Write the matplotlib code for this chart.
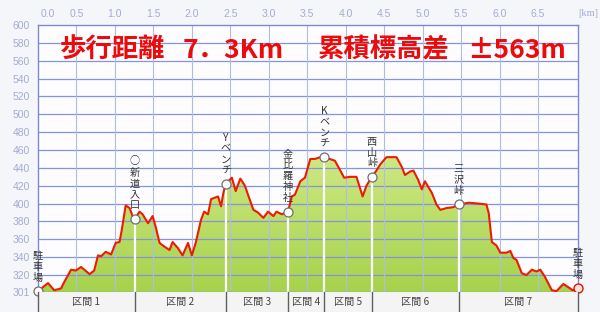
import numpy as np
import matplotlib
matplotlib.use("Agg")
import matplotlib.pyplot as plt
import matplotlib.transforms as mtransforms
from matplotlib.colors import LinearSegmentedColormap

plt.rcParams['font.family'] = ['Noto Sans CJK JP', 'DejaVu Sans']

# ---- data ----
dist = [0.00, 0.13, 0.21, 0.30, 0.34, 0.43, 0.49, 0.56, 0.67, 0.73, 0.78, 0.82, 0.88, 0.95,
        1.01, 1.06, 1.09, 1.14, 1.19, 1.23, 1.26, 1.32, 1.36, 1.43, 1.49, 1.53, 1.58, 1.64,
        1.71, 1.75, 1.82, 1.88, 1.95, 2.00, 2.05, 2.12, 2.16, 2.21, 2.25, 2.34, 2.38, 2.41,
        2.44, 2.52, 2.57, 2.63, 2.69, 2.73, 2.80, 2.86, 2.93, 2.99, 3.06, 3.10, 3.17, 3.25,
        3.30, 3.34, 3.41, 3.47, 3.54, 3.60, 3.67, 3.72, 3.86, 3.93, 3.98, 4.06, 4.14, 4.22,
        4.27, 4.34, 4.40, 4.45, 4.53, 4.66, 4.73, 4.77, 4.84, 4.88, 4.94, 4.99, 5.03, 5.12,
        5.18, 5.23, 5.31, 5.40, 5.47, 5.60, 5.73, 5.83, 5.86, 5.90, 5.96, 6.01, 6.09, 6.14,
        6.18, 6.22, 6.29, 6.35, 6.42, 6.48, 6.53, 6.59, 6.68, 6.74, 6.83, 6.90, 6.95, 7.02]
elev = [302, 311, 303, 305, 312, 326, 325, 329, 321, 325, 342, 341, 346, 343,
        356, 357, 371, 398, 395, 386, 383, 391, 388, 378, 386, 374, 356, 352,
        348, 357, 350, 342, 356, 342, 356, 382, 391, 388, 405, 408, 397, 412,
        422, 429, 414, 428, 420, 410, 393, 390, 384, 391, 386, 391, 388, 391,
        408, 410, 425, 429, 450, 450, 452, 452, 448, 437, 429, 430, 430, 408,
        420, 430, 437, 444, 452, 452, 441, 432, 436, 437, 427, 416, 425, 412,
        399, 393, 395, 396, 399, 401, 400, 399, 389, 357, 353, 345, 345, 347,
        339, 337, 322, 320, 326, 324, 326, 318, 303, 302, 310, 306, 303, 305]

waypoint_names = ["駐車場", "○新道入口", "Yベンチ", "金比羅神社", "Kベンチ", "西山峠", "三沢峠", "駐車場"]
waypoint_dist = [0.0, 1.26, 2.44, 3.25, 3.72, 4.34, 5.47, 7.02]
section_labels = ["区間 1", "区間 2", "区間 3", "区間 4", "区間 5", "区間 6", "区間 7"]
x_ticks = [0.0, 0.5, 1.0, 1.5, 2.0, 2.5, 3.0, 3.5, 4.0, 4.5, 5.0, 5.5, 6.0, 6.5]
y_ticks = [301, 320, 340, 360, 380, 400, 420, 440, 460, 480, 500, 520, 540, 560, 580, 600]
title_parts = ["歩行距離", "7．3Km", "累積標高差", "±563m"]

# ---- figure ----
W, H = 600, 312
fig = plt.figure(figsize=(6, 3.12), dpi=100, facecolor='#f5f6f9')
L, R, T, B = 38, 578, 25, 292
ax = fig.add_axes([L / W, 1 - B / H, (R - L) / W, (B - T) / H])
ax.set_facecolor('#fdfdff')
xmin, xmax = 0.0, 7.02
ymin, ymax = 301, 600
ax.set_xlim(xmin, xmax)
ax.set_ylim(ymin, ymax)

d = np.array(dist)
e = np.array(elev)

# gradient fill clipped under profile
poly = ax.fill_between(d, e, ymin, facecolor='none', edgecolor='none')
cmap = LinearSegmentedColormap.from_list('g', ['#a6d24c', '#cfe985'])
grad = np.linspace(0, 1, 256).reshape(-1, 1)
im = ax.imshow(grad, extent=[xmin, xmax, ymin, 460], origin='lower', cmap=cmap,
               aspect='auto', zorder=1)
im.set_clip_path(poly.get_paths()[0], transform=ax.transData)
ax.set_xlim(xmin, xmax)
ax.set_ylim(ymin, ymax)

# grid
for yv in y_ticks[1:-1]:
    ax.axhline(yv, color='#8393dc', lw=0.9, zorder=2)
for xv in x_ticks[1:]:
    ax.axvline(xv, color='#aebde6', lw=0.8, zorder=2)

# waypoint lines
wp_elev = np.interp(waypoint_dist, d, e)
for xv, yv in zip(waypoint_dist[1:-1], wp_elev[1:-1]):
    ax.plot([xv, xv], [ymin, yv], color='white', lw=1.6, zorder=3)

# profile line
ax.plot(d, e, color='#f01a00', lw=1.5, zorder=4, solid_joinstyle='round')

# markers
ax.scatter(waypoint_dist[:-1], wp_elev[:-1], s=42, facecolor='white', edgecolor='#707070',
           linewidth=0.9, zorder=5, clip_on=False)
ax.scatter(waypoint_dist[-1:], wp_elev[-1:], s=42, facecolor='#ffe0e0', edgecolor='#e01000',
           linewidth=1.0, zorder=5, clip_on=False)

# waypoint labels (vertical)
for name, xv, yv in zip(waypoint_names, waypoint_dist, wp_elev):
    ax.annotate("\n".join(list(name)), xy=(xv, yv), xytext=(0, 6), textcoords='offset points',
                ha='center', va='bottom', fontsize=7.3, color='#333333', linespacing=1.12,
                zorder=6, annotation_clip=False)

# spines
for s in ax.spines.values():
    s.set_color('#7f88d2')
    s.set_linewidth(1.0)

# ticks
ax.xaxis.tick_top()
ax.set_xticks(x_ticks)
ax.set_xticklabels([f"{v:.1f}" for v in x_ticks])
ax.set_yticks(y_ticks)
ax.set_yticklabels([str(v) for v in y_ticks])
ax.tick_params(axis='both', length=0, colors='#a3abd3', labelsize=7.5)
ax.tick_params(axis='x', pad=4)
ax.tick_params(axis='y', pad=6)
for lab in ax.get_xticklabels() + ax.get_yticklabels():
    lab.set_fontfamily(['Liberation Sans', 'DejaVu Sans'])
first = ax.get_xticklabels()[0]
first.set_transform(first.get_transform() + mtransforms.ScaledTranslation(10 / 100, 0, fig.dpi_scale_trans))
fig.text(588 / W, 1 - 14 / H, "[km]", ha='center', va='center', fontsize=7.5, color='#a3abd3',
         family=['Liberation Serif', 'DejaVu Serif'])

# title
title_x = [60, 183, 318, 467]
for txt, px in zip(title_parts, title_x):
    fig.text(px / W, 1 - 50 / H, txt, ha='left', va='center', fontsize=19, fontweight='bold',
             color='#ee0a0a')

# section strip
ax2 = fig.add_axes([L / W, 0, (R - L) / W, (H - B) / H])
ax2.set_facecolor('#f4f4f4')
ax2.set_xlim(xmin, xmax)
ax2.set_ylim(0, 1)
ax2.set_xticks([])
ax2.set_yticks([])
for s in ax2.spines.values():
    s.set_visible(False)
for xv in waypoint_dist:
    ax2.axvline(xv, color='#606060', lw=1.0, clip_on=False)
for i, lab in enumerate(section_labels):
    cx = (waypoint_dist[i] + waypoint_dist[i + 1]) / 2
    ax2.text(cx, 0.5, lab, ha='center', va='center', fontsize=7.3, color='#444444')

fig.savefig("out.png", dpi=100, facecolor=fig.get_facecolor())
